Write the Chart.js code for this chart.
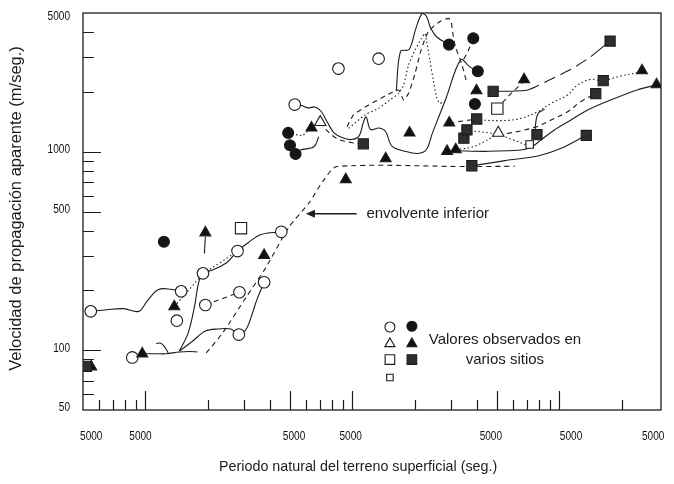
<!DOCTYPE html>
<html>
<head>
<meta charset="utf-8">
<script src="https://cdn.jsdelivr.net/npm/chart.js@4.4.1/dist/chart.umd.min.js"></script>
<style>
  html, body { margin: 0; padding: 0; background: #fff; }
  canvas { display: block; }
</style>
</head>
<body>
<canvas id="chart" width="674" height="484"></canvas>
<script>
// ---------- axes ----------
const xTitle = 'Periodo natural del terreno superficial (seg.)';
const yTitle = 'Velocidad de propagación aparente (m/seg.)';
const xLabelAt = [0.0548, 0.0948, 0.523, 0.982, 4.67, 11.4, 28.4];
const xLabelText = ['5000', '5000', '5000', '5000', '5000', '5000', '5000'];
const xMajorTicks = [0.1, 0.5, 1, 5, 10];
const xMinorTicks = [0.06, 0.07, 0.08, 0.09, 0.2, 0.3, 0.4, 0.6, 0.7, 0.8, 0.9, 2, 3, 4, 6, 7, 8, 9, 20];
const yLabelAt = [50, 100, 500, 1000, 5000];
const yLabelText = ['50', '100', '500', '1000', '5000'];
const yMajorTicks = [100, 500, 1000];
const yMinorTicks = [60, 70, 80, 90, 200, 300, 400, 600, 700, 800, 900, 2000, 3000, 4000];

// ---------- observed values at the sites: [period (s), velocity (m/s)] ----------
const openCircles = [[0.0545,157],[0.0865,92],[0.142,141],[0.149,198],[0.195,169],[0.19,244],[0.279,316],
  [0.285,196],[0.283,120],[0.375,220],[0.454,395],[0.527,1729],[0.857,2623],[1.34,2945]];
const filledCircles = [[0.123,352],[0.49,1244],[0.50,1079],[0.532,975],[2.93,3465],[3.84,3727],[4.04,2543],[3.91,1740]];
const openTriangles = [[0.70,1408],[5.07,1244]];
const filledTriangles = [[0.0548,82.6],[0.0967,96],[0.138,166],[0.195,391],[0.375,301],[0.635,1319],[0.93,725],
  [1.45,924],[1.89,1244],[2.87,1006],[3.16,1025],[2.94,1397],[3.98,2031],[6.76,2312],[25.1,2564],[29.5,2180]];
const openSquares = [[0.29,412],[5.02,1649]];
const smallOpenSquares = [[7.19,1087]];
const filledSquares = [[0.0519,83],[1.13,1096],[3.46,1170],[3.58,1290],[3.99,1462],[3.78,850],[4.79,2015],
  [7.8,1220],[13.5,1208],[15.0,1960],[16.3,2282],[17.6,3610]];

// ---------- curves joining the observations ----------
const lowEnvelope = [[0.197,97],[0.236,122],[0.307,185],[0.383,262],[0.495,418],[0.617,552],[0.728,720],[0.842,842],[3.63,842],[6.1,845]];
const curveA = [[0.0545,157],[0.065,160],[0.0787,162],[0.093,157],[0.102,177],[0.1153,202],[0.133,203],[0.149,198]];
const curveB = [[0.138,166],[0.165,205],[0.19,244]];
const curveC = [[0.19,244],[0.235,280],[0.279,316]];
const curveD = [[0.146,99],[0.161,122],[0.173,167],[0.181,219],[0.19,244],[0.214,255],[0.247,276],[0.279,316],[0.314,348],[0.362,383],[0.454,395]];
const curveE = [[0.146,99],[0.169,111],[0.195,125],[0.225,128],[0.259,128],[0.283,120],[0.307,127.5],[0.330,155],[0.346,180],[0.375,220]];
const curveF = [[0.0957,96],[0.113,96],[0.126,96],[0.146,98],[0.163,98.5],[0.179,98]];
const curveFbump = [[0.113,108],[0.119,108.5],[0.124,104],[0.129,97]];
const curveG = [[0.195,169],[0.285,196]];
const riseMark = [[0.193,307],[0.195,373]];
const curveM1 = [[0.49,1244],[0.573,1200],[0.635,1319],[0.70,1408]];
const curveM2 = [[0.532,975],[0.562,1020],[0.652,1059],[0.689,1189]];
const curveM3 = [[0.70,1408],[0.764,1262],[0.85,1160],[1.0,1110],[1.13,1096]];
const curveS1 = [[0.526,1728],[0.570,1709],[0.612,1663],[0.658,1682],[0.707,1600],[0.760,1399],[0.816,1245],[0.897,1175],
  [0.988,1152],[1.077,1198],[1.129,1399],[1.167,1498],[1.224,1294],[1.346,1318],[1.446,1268],[1.555,1067],[1.794,1006],
  [2.07,980],[2.28,1026],[2.44,1245],[2.82,1829],[3.34,2909],[3.67,2692],[4.04,2543]];
const curveS2 = [[1.63,2017],[1.71,3205],[1.88,3274],[2.02,4123],[2.17,4960],[2.28,4820],[2.39,4202],[2.56,3786],[2.93,3465]];
const curveD1 = [[0.943,1337],[1.016,1537],[1.20,1720],[1.47,1932],[1.67,2048],[1.77,1823],[1.87,1970],[2.01,2484],[2.15,3257],
  [2.33,4026],[2.64,4520],[2.91,4697],[3.0,4569],[3.05,4026],[3.15,3381],[3.37,2789],[3.56,2254]];
const curveDT1 = [[0.961,1313],[1.156,1537],[1.34,1656],[1.52,1823],[1.67,1970],[1.77,2168],[1.87,2736],[2.01,3257],[2.16,3727],
  [2.24,3952],[2.28,3656],[2.37,2898],[2.46,2299],[2.55,1892],[2.64,1754],[2.75,1780]];
const curvePeakTail = [[3.84,3727],[3.6,3150],[3.4,2850]];
const curveR1 = [[3.97,1445],[5.45,1436],[6.54,1474],[7.87,1592],[9.12,1754],[10.97,1931],[12.25,2168],[14.2,2318],[16.2,2280],[19.8,2407],[24.7,2515]];
const curveR2 = [[7.73,1214],[7.65,1327],[7.9,1560],[8.5,1640]];
const curveRlong = [[4.78,2011],[7.05,2048],[9.12,2318],[11.38,2601],[14.2,3013],[17.4,3584]];
const curveRsq = [[4.96,1637],[5.8,1950],[6.79,2280]];
const curveR4 = [[3.13,1012],[4.53,1005],[6.54,1020],[7.31,1053],[8.17,1147],[9.47,1287],[11.38,1445],[13.7,1623],[17.7,1823],[23.8,2048],[29.2,2168]];
const curveR5 = [[3.76,848],[5.45,902],[7.87,952],[10.2,1041],[13.35,1204]];
const curveR6 = [[5.05,1229],[5.45,1229],[7.59,1327],[9.12,1445],[10.97,1592],[12.7,1787],[15.0,1970]];
const curveR7 = [[3.56,1287],[5.05,1229],[7.1,1071]];
const curveR8 = [[3.16,1025],[3.76,1053],[4.2,1105],[5.05,1229]];
const curveR9 = [[2.94,1397],[3.99,1462]];

// ---------- callout ----------
const calloutTip = [0.597, 487];
const calloutTail = [1.05, 487];
const calloutTextAt = [1.17, 487];
const calloutText = 'envolvente inferior';
const legendLines = ['Valores observados en', 'varios sitios'];

const SANS = '"Liberation Sans", Arial, Helvetica, sans-serif';
const INK = '#1c1c1c';
const pts = a => a.map(p => ({ x: p[0], y: p[1] }));

function markers(data, style, radius, fill) {
  return {
    data: pts(data), showLine: false, order: 0,
    pointStyle: style, pointRadius: radius, pointHoverRadius: radius,
    pointBackgroundColor: fill, pointBorderColor: INK, pointBorderWidth: 1.1
  };
}
const DASH = { solid: [], dashed: [5, 4], dotted: [1.5, 2.5], long: [12, 6] };
function curve(data, kind, tension) {
  return {
    data: pts(data), showLine: true, order: 1, pointRadius: 0,
    borderColor: INK, borderWidth: 1.1, borderDash: DASH[kind],
    tension: tension === undefined ? 0.35 : tension, fill: false
  };
}

const longSeg = curve(curveRlong, 'long', 0.2);
longSeg.segment = { borderDash: c => (c.p0DataIndex === 0 || c.p0DataIndex === 4) ? [] : [12, 6] };

const datasets = [
  markers(filledSquares, 'rect', 7.2, '#2e2e2e'),
  markers(filledTriangles, 'triangle', 6.3, '#111'),
  markers(filledCircles, 'circle', 5.5, '#151515'),
  markers(openCircles, 'circle', 5.8, '#fff'),
  markers(openTriangles, 'triangle', 6.6, '#fff'),
  markers(openSquares, 'rect', 8, '#fff'),
  markers(smallOpenSquares, 'rect', 5.3, '#fff'),
  curve(lowEnvelope, 'dashed', 0.25),
  curve(curveA, 'solid'), curve(curveB, 'dotted', 0), curve(curveC, 'dotted', 0),
  curve(curveD, 'solid'), curve(curveE, 'solid'), curve(curveF, 'solid'), curve(curveFbump, 'solid'),
  curve(curveG, 'dashed', 0), curve(riseMark, 'solid', 0),
  curve(curveM1, 'dotted', 0), curve(curveM2, 'solid'), curve(curveM3, 'dashed'),
  curve(curveS1, 'solid'), curve(curveS2, 'solid'), curve(curveD1, 'dashed', 0.2), curve(curveDT1, 'dotted', 0.2),
  curve(curvePeakTail, 'dashed', 0),
  curve(curveR1, 'dotted'), curve(curveR2, 'solid'), longSeg, curve(curveRsq, 'dashed', 0),
  curve(curveR4, 'solid'), curve(curveR5, 'solid'), curve(curveR6, 'dashed'), curve(curveR7, 'dotted', 0),
  curve(curveR8, 'dotted'), curve(curveR9, 'dashed', 0)
];

// condensed tick numerals
function narrowText(ctx, text, x, y, align) {
  const sx = 0.84;
  ctx.save();
  ctx.font = '12px ' + SANS;
  ctx.textBaseline = 'middle';
  ctx.textAlign = align;
  ctx.translate(x, y);
  ctx.scale(sx, 1);
  ctx.fillText(text, 0, 0);
  ctx.restore();
}

// frame, inward tick marks and tick labels
const frameAndTicks = {
  id: 'frameAndTicks',
  beforeDatasetsDraw(chart) {
    const { ctx, chartArea: a, scales } = chart;
    ctx.save();
    ctx.strokeStyle = INK;
    ctx.fillStyle = '#111';
    ctx.lineWidth = 1.3;
    ctx.strokeRect(a.left, a.top, a.width, a.height);
    ctx.lineWidth = 1.2;
    ctx.beginPath();
    const yTick = (v, len) => { const p = Math.round(scales.y.getPixelForValue(v)) + 0.5; ctx.moveTo(a.left, p); ctx.lineTo(a.left + len, p); };
    const xTick = (v, len) => { const p = Math.round(scales.x.getPixelForValue(v)) + 0.5; ctx.moveTo(p, a.bottom); ctx.lineTo(p, a.bottom - len); };
    yMajorTicks.forEach(v => yTick(v, 18));
    yMinorTicks.forEach(v => yTick(v, 11));
    xMajorTicks.forEach(v => xTick(v, 19));
    xMinorTicks.forEach(v => xTick(v, 10));
    ctx.stroke();

    xLabelAt.forEach((v, i) => narrowText(ctx, xLabelText[i], scales.x.getPixelForValue(v), a.bottom + 27, 'center'));
    yLabelAt.forEach((v, i) => {
      const p = scales.y.getPixelForValue(v);
      narrowText(ctx, yLabelText[i], a.left - 13, Math.max(p - 2, a.top + 4), 'right');
    });
    ctx.restore();
  }
};

function symbol(ctx, style, x, y, r, fill) {
  ctx.beginPath();
  if (style === 'circle') ctx.arc(x, y, r, 0, Math.PI * 2);
  else if (style === 'rect') { const s = r * Math.SQRT1_2; ctx.rect(x - s, y - s, 2 * s, 2 * s); }
  else {
    ctx.moveTo(x, y - r);
    ctx.lineTo(x + r * Math.sin(Math.PI * 2 / 3), y - r * Math.cos(Math.PI * 2 / 3));
    ctx.lineTo(x + r * Math.sin(Math.PI * 4 / 3), y - r * Math.cos(Math.PI * 4 / 3));
    ctx.closePath();
  }
  ctx.fillStyle = fill; ctx.fill();
  ctx.strokeStyle = INK; ctx.lineWidth = 1.1; ctx.stroke();
}

// titles, callout and key
const annotations = {
  id: 'annotations',
  afterDraw(chart) {
    const { ctx, chartArea: a, scales } = chart;
    ctx.save();
    ctx.fillStyle = INK;
    ctx.strokeStyle = INK;
    ctx.textBaseline = 'middle';

    // axis titles
    ctx.textAlign = 'center';
    ctx.font = '14.3px ' + SANS;
    ctx.fillText(xTitle, a.left + a.width * 0.476, 467);
    ctx.save();
    ctx.translate(16, (a.top + a.bottom) / 2 - 3);
    ctx.rotate(-Math.PI / 2);
    ctx.font = '16.5px ' + SANS;
    ctx.fillText(yTitle, 0, 0);
    ctx.restore();

    // callout arrow to the lower envelope
    const tx = scales.x.getPixelForValue(calloutTip[0]), ty = scales.y.getPixelForValue(calloutTip[1]);
    const lx = scales.x.getPixelForValue(calloutTail[0]);
    ctx.lineWidth = 1.3;
    ctx.beginPath(); ctx.moveTo(tx + 6, ty); ctx.lineTo(lx, ty); ctx.stroke();
    ctx.beginPath(); ctx.moveTo(tx, ty); ctx.lineTo(tx + 9, ty - 4); ctx.lineTo(tx + 9, ty + 4); ctx.closePath(); ctx.fill();
    ctx.textAlign = 'left';
    ctx.font = '15px ' + SANS;
    ctx.fillText(calloutText, scales.x.getPixelForValue(calloutTextAt[0]), scales.y.getPixelForValue(calloutTextAt[1]));

    // key of symbols
    const kx1 = a.left + a.width * 0.531, kx2 = a.left + a.width * 0.569;
    const ky = f => a.top + a.height * f;
    symbol(ctx, 'circle', kx1, ky(0.791), 5, '#fff');
    symbol(ctx, 'circle', kx2, ky(0.789), 5, '#151515');
    symbol(ctx, 'triangle', kx1, ky(0.833), 5.8, '#fff');
    symbol(ctx, 'triangle', kx2, ky(0.833), 5.8, '#111');
    symbol(ctx, 'rect', kx1, ky(0.873), 6.8, '#fff');
    symbol(ctx, 'rect', kx2, ky(0.873), 6.8, '#2e2e2e');
    symbol(ctx, 'rect', kx1, ky(0.918), 4.6, '#fff');
    ctx.fillStyle = INK;
    ctx.textAlign = 'center';
    ctx.font = '15px ' + SANS;
    ctx.fillText(legendLines[0], a.left + a.width * 0.730, ky(0.824));
    ctx.fillText(legendLines[1], a.left + a.width * 0.730, ky(0.874));
    ctx.restore();
  }
};

new Chart(document.getElementById('chart'), {
  type: 'scatter',
  data: { datasets },
  options: {
    responsive: false,
    animation: false,
    events: [],
    layout: { padding: { top: 13, right: 13, left: 0, bottom: 0 } },
    plugins: { legend: { display: false }, tooltip: { enabled: false } },
    scales: {
      x: {
        type: 'logarithmic', min: 0.05, max: 31,
        grid: { display: false, drawTicks: false },
        border: { display: false },
        ticks: { display: false },
        afterFit: s => { s.height = 74; }
      },
      y: {
        type: 'logarithmic', min: 50, max: 5000,
        grid: { display: false, drawTicks: false },
        border: { display: false },
        ticks: { display: false },
        afterFit: s => { s.width = 83; }
      }
    }
  },
  plugins: [frameAndTicks, annotations]
});
</script>
</body>
</html>
